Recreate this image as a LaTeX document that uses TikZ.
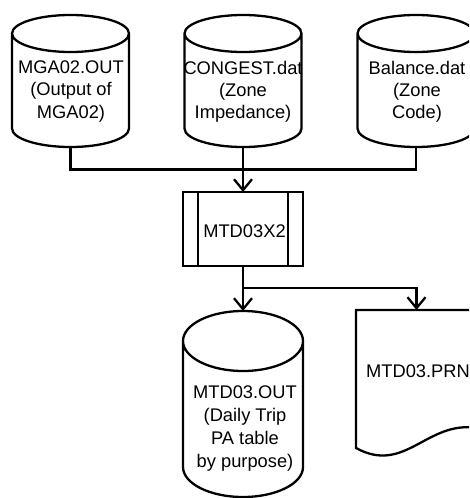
\documentclass[tikz,border=0pt]{standalone}
\usepackage{fontspec}
\setmainfont{Liberation Sans}
\usetikzlibrary{calc,arrows.meta}

\begin{document}
\begin{tikzpicture}[x=1pt,y=-1pt,
  outline/.style={draw=black,line width=2.3pt,line join=miter},
  shapebox/.style={inner sep=0pt,outer sep=0pt,draw=none},
  wire/.style={draw=black,line width=2.3pt},
  flow/.style={wire,-{Straight Barb[length=11pt,width=18pt,line width=2.3pt]}},
  toptext/.style={inner sep=0pt,anchor=north,align=center,font={\fontsize{18.3}{22.3}\selectfont}},
  lowtext/.style={inner sep=0pt,anchor=north,align=center,font={\fontsize{18.3}{23}\selectfont}},
  onetext/.style={inner sep=0pt,anchor=base,font={\fontsize{18.3}{22}\selectfont}}]
\useasboundingbox (0,0) rectangle (469,498);
\clip (0,0) rectangle (469,498);

% storage cylinders (outline frames)
\node[shapebox,minimum width=117pt,minimum height=132pt] (mga)  at (70.5,81) {};
\node[shapebox,minimum width=117pt,minimum height=132pt] (cong) at (243,81) {};
\node[shapebox,minimum width=117pt,minimum height=132pt] (bal)  at (416,81) {};
\node[shapebox,minimum width=120pt,minimum height=186pt] (out)  at (243,404) {};

\foreach \n/\ry/\rx in {mga/18.5/58.5,cong/18.5/58.5,bal/18.5/58.5,out/30/60}{
  \draw[outline] ($(\n.north west)+(0pt,-\ry pt)$) -- ($(\n.south west)+(0pt,\ry pt)$)
    arc[start angle=180,end angle=360,x radius=\rx pt,y radius=\ry pt]
    -- ($(\n.north east)+(0pt,-\ry pt)$)
    arc[start angle=0,end angle=180,x radius=\rx pt,y radius=\ry pt]
    arc[start angle=180,end angle=360,x radius=\rx pt,y radius=\ry pt];
}

% predefined process
\node[shapebox,draw=black,line width=2.3pt,minimum width=120pt,minimum height=74pt] (proc) at (243,229) {};
\draw[outline] ([xshift=15pt]proc.north west) -- ([xshift=15pt]proc.south west);
\draw[outline] ([xshift=-15pt]proc.north east) -- ([xshift=-15pt]proc.south east);

% printed document
\node[shapebox,minimum width=121pt,minimum height=146pt] (prn) at (416.5,383) {};
\draw[outline] ($(prn.south west)+(0pt,8pt)$) -- (prn.north west) -- (prn.north east)
  -- ($(prn.south west)+(121pt,28pt)$)
  .. controls ($(prn.south west)+(71pt,36pt)$) and ($(prn.south west)+(49pt,-19pt)$)
  .. ($(prn.south west)+(0pt,8pt)$) -- cycle;

% labels
\node[toptext] (mga-t)  at (71,60.7)  {MGA02.OUT\\(Output of\\MGA02)};
\node[toptext] (cong-t) at (243,60.7) {CONGEST.dat\\(Zone\\Impedance)};
\node[toptext] (bal-t)  at (417,60.7) {Balance.dat\\(Zone\\Code)};
\node[lowtext] (out-t)  at (245,385.7) {MTD03.OUT\\(Daily Trip\\PA table\\by purpose)};
\node[onetext] (proc-t) at (244.5,237) {MTD03X2};
\node[onetext] (prn-t)  at (418,377) {MTD03.PRN};

% connectors
\coordinate (bus) at (0,169.5);
\coordinate (fork) at (0,288);
\draw[wire] (mga.south) |- (bus -| bal.south) -- (bal.south);
\draw[flow] (cong.south) -- (proc.north);
\draw[flow] (proc.south) -- (out.north);
\draw[flow] (proc.south |- fork) -| (prn.north);
\end{tikzpicture}
\end{document}
